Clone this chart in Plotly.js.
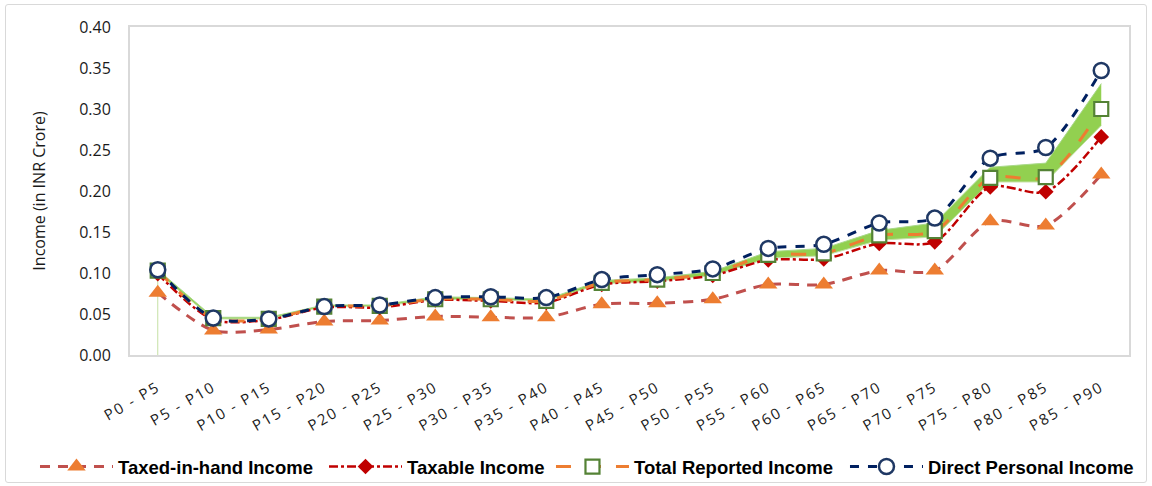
<!DOCTYPE html>
<html>
<head>
<meta charset="utf-8">
<script src="https://cdn.plot.ly/plotly-3.0.1.min.js"></script>
<style>
  html, body { margin: 0; padding: 0; background: #ffffff; }
  #wrap { position: relative; width: 1152px; height: 486px; }
  #chart { width: 1152px; height: 486px; }
  #frame { position: absolute; left: 5px; top: 4px; width: 1140px; height: 477px;
           border: 1.5px solid #d9d9d9; border-radius: 3px; pointer-events: none; }
  .xtick text { letter-spacing: 2px; }
</style>
</head>
<body>
<div id="wrap">
  <div id="chart"></div>
  <div id="frame"></div>
</div>
<script>
const categories = ['P0 - P5','P5 - P10','P10 - P15','P15 - P20','P20 - P25','P25 - P30',
  'P30 - P35','P35 - P40','P40 - P45','P45 - P50','P50 - P55','P55 - P60',
  'P60 - P65','P65 - P70','P70 - P75','P75 - P80','P80 - P85','P85 - P90'];

const taxedInHand = [0.076, 0.030, 0.031, 0.041, 0.042, 0.047, 0.046, 0.046, 0.062,
  0.063, 0.068, 0.086, 0.086, 0.103, 0.103, 0.163, 0.158, 0.220];
const taxable = [0.099, 0.043, 0.043, 0.058, 0.058, 0.067, 0.066, 0.064, 0.086,
  0.090, 0.097, 0.116, 0.117, 0.136, 0.138, 0.205, 0.199, 0.266];
const totalReported = [0.103, 0.045, 0.044, 0.059, 0.060, 0.068, 0.068, 0.066, 0.088,
  0.092, 0.100, 0.122, 0.124, 0.146, 0.151, 0.216, 0.217, 0.300];
const directPersonal = [0.104, 0.045, 0.044, 0.059, 0.061, 0.070, 0.071, 0.070, 0.092,
  0.098, 0.105, 0.130, 0.135, 0.161, 0.167, 0.240, 0.253, 0.347];
const bandLow = [0.100, 0.044, 0.044, 0.059, 0.059, 0.068, 0.067, 0.066, 0.087,
  0.090, 0.097, 0.118, 0.121, 0.140, 0.144, 0.211, 0.211, 0.280];
const bandHigh = [0.104, 0.046, 0.046, 0.061, 0.061, 0.071, 0.070, 0.068, 0.091,
  0.094, 0.102, 0.126, 0.130, 0.152, 0.161, 0.229, 0.234, 0.331];

const yTickVals = [0, 0.05, 0.10, 0.15, 0.20, 0.25, 0.30, 0.35, 0.40];

const traces = [
  { x: categories, y: bandLow, type: 'scatter', mode: 'lines',
    line: { color: '#c5e0a5', width: 1 }, showlegend: false, hoverinfo: 'skip' },
  { x: categories, y: bandHigh, type: 'scatter', mode: 'lines', fill: 'tonexty',
    fillcolor: '#92d050', line: { color: '#a9d98a', width: 1 }, showlegend: false, hoverinfo: 'skip' },
  { x: [categories[0], categories[0]], y: [0, bandLow[0]], type: 'scatter', mode: 'lines',
    line: { color: '#c5e0a5', width: 1 }, showlegend: false, hoverinfo: 'skip' },
  { name: 'Taxed-in-hand Income', legend: 'legend', x: categories, y: taxedInHand, type: 'scatter',
    mode: 'lines+markers', line: { color: '#c0504d', width: 3, dash: '10px,8px', shape: 'spline', smoothing: 0.8 },
    marker: { symbol: 'triangle-up', size: 16, color: '#ed7d31', line: { width: 0 } } },
  { name: 'Taxable Income', legend: 'legend2', x: categories, y: taxable, type: 'scatter',
    mode: 'lines+markers', line: { color: '#c00000', width: 2.5, dash: 'dashdot', shape: 'spline', smoothing: 0.8 },
    marker: { symbol: 'diamond', size: 12, color: '#c00000', line: { width: 0 } } },
  { name: 'Total Reported Income', legend: 'legend3', x: categories, y: totalReported, type: 'scatter',
    mode: 'lines+markers', line: { color: '#ed7d31', width: 3, dash: 'longdash', shape: 'spline', smoothing: 0.8 },
    marker: { symbol: 'square', size: 14, color: '#ffffff', line: { color: '#548235', width: 2.2 } } },
  { name: 'Direct Personal Income', legend: 'legend4', x: categories, y: directPersonal, type: 'scatter',
    mode: 'lines+markers', line: { color: '#002060', width: 3, dash: 'dash', shape: 'spline', smoothing: 0.8 },
    marker: { symbol: 'circle', size: 15, color: '#ffffff', line: { color: '#1f3864', width: 2.5 } } }
];

const legendFont = { family: 'Liberation Sans, sans-serif', size: 18.5, color: '#000000', weight: 'bold' };
function legendAt(x) {
  return { orientation: 'h', x: x, xanchor: 'left', y: -0.3415, yanchor: 'middle',
           font: legendFont, itemwidth: 73, bgcolor: 'rgba(0,0,0,0)' };
}

const layout = {
  width: 1152, height: 486,
  margin: { l: 130, r: 23, t: 27, b: 131, autoexpand: false },
  paper_bgcolor: '#ffffff', plot_bgcolor: '#ffffff',
  font: { family: 'Open Sans, Liberation Sans, sans-serif', color: '#1a1a1a' },
  xaxis: {
    type: 'category', range: [-0.5, categories.length - 0.5],
    showgrid: false, zeroline: false,
    showline: true, mirror: true, linecolor: '#d9d9d9', linewidth: 2,
    tickangle: -30, tickfont: { size: 15, color: '#1a1a1a' }, ticks: '',
    ticklabelstandoff: 16, automargin: false
  },
  yaxis: {
    range: [0, 0.4], tickvals: yTickVals, tickformat: '.2f',
    showgrid: false, zeroline: false,
    showline: true, mirror: true, linecolor: '#d9d9d9', linewidth: 2,
    tickfont: { size: 16, color: '#1a1a1a' }, ticks: '', ticklabelstandoff: 14,
    title: { text: 'Income (in INR Crore)', font: { size: 16, color: '#1a1a1a' }, standoff: 30 },
    automargin: false
  },
  legend: legendAt(-0.0951),
  legend2: legendAt(0.1942),
  legend3: legendAt(0.4214),
  legend4: legendAt(0.7157),
  showlegend: true
};

Plotly.newPlot('chart', traces, layout, { displayModeBar: false, staticPlot: true });
</script>
</body>
</html>
